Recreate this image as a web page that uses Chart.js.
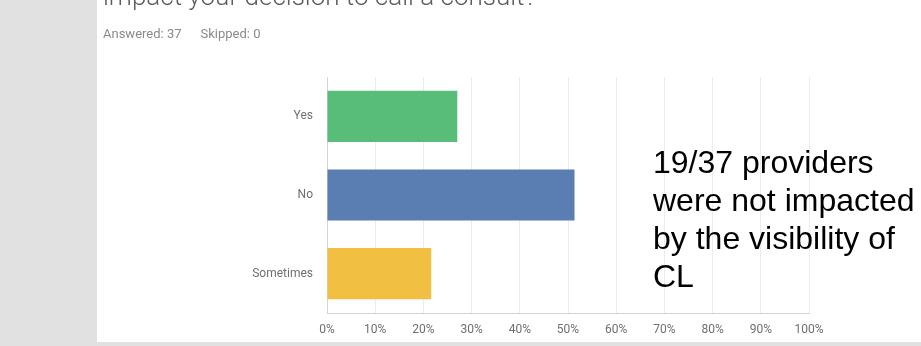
<!DOCTYPE html>
<html>
<head>
<meta charset="utf-8">
<script src="https://cdn.jsdelivr.net/npm/chart.js@4.4.1/dist/chart.umd.min.js"></script>
<style>
  html, body { margin: 0; padding: 0; }
  body { width: 921px; height: 346px; background: #e1e1e1; position: relative; overflow: hidden; font-family: Roboto, sans-serif; }
  #panel { position: absolute; left: 97px; top: 0; width: 824px; height: 342px; background: #fff; }
  #question { position: absolute; left: 6px; top: -19px; font-size: 26px; color: #5c5c5c; white-space: nowrap; font-weight: 300; }
  #answered { position: absolute; left: 6px; top: 26px; font-size: 13px; color: #8a8a8a; white-space: nowrap; }
  #answered span { margin-left: 19px; }
  #wrap { position: absolute; left: 0; top: 0; width: 824px; height: 342px; }
  #note { position: absolute; left: 653px; top: 143px; font-family: "Liberation Sans", Arial, sans-serif; font-size: 32px; line-height: 38px; color: #000; white-space: nowrap; }
</style>
</head>
<body>
<div id="panel">
  <div id="wrap"><canvas id="bar-chart" width="824" height="342"></canvas></div>
  <div id="question">impact your decision to call a consult?</div>
  <div id="answered">Answered: 37<span>Skipped: 0</span></div>
</div>
<div id="note">19/37 providers<br>were not impacted<br>by the visibility of<br>CL</div>
<script>
// answer choices and share of responses (%)
var answers = ["Yes", "No", "Sometimes"];
var responses = [27.03, 51.35, 21.62];
var barColors = ["#57bd78", "#5a7db2", "#f1bf42"];
var xTicks = [0, 10, 20, 30, 40, 50, 60, 70, 80, 90, 100];

new Chart(document.getElementById("bar-chart"), {
  type: 'bar',
  data: {
    labels: answers,
    datasets: [{
      data: responses,
      backgroundColor: barColors,
      borderWidth: 0,
      barPercentage: 0.65,
      categoryPercentage: 1
    }]
  },
  options: {
    indexAxis: 'y',
    responsive: false,
    animation: false,
    layout: { padding: { top: 77, right: 112, bottom: 0, left: 0 } },
    plugins: { legend: { display: false }, tooltip: { enabled: false } },
    scales: {
      x: {
        min: 0,
        max: 100,
        afterBuildTicks: function(axis) {
          axis.ticks = xTicks.map(function(v) { return { value: v }; });
        },
        afterFit: function(axis) { axis.height = 29; },
        grid: { color: "#ececec", drawTicks: false },
        border: { color: "#d4d4d4" },
        ticks: {
          padding: 10,
          color: "#6f6f6f",
          font: { family: "Roboto", size: 12 },
          callback: function(v) { return v + "%"; }
        }
      },
      y: {
        afterFit: function(axis) { axis.width = 230; },
        grid: { display: false, drawTicks: false },
        border: { color: "#d4d4d4" },
        ticks: {
          padding: 14,
          color: "#6f6f6f",
          font: { family: "Roboto", size: 12 }
        }
      }
    }
  }
});
</script>
</body>
</html>
